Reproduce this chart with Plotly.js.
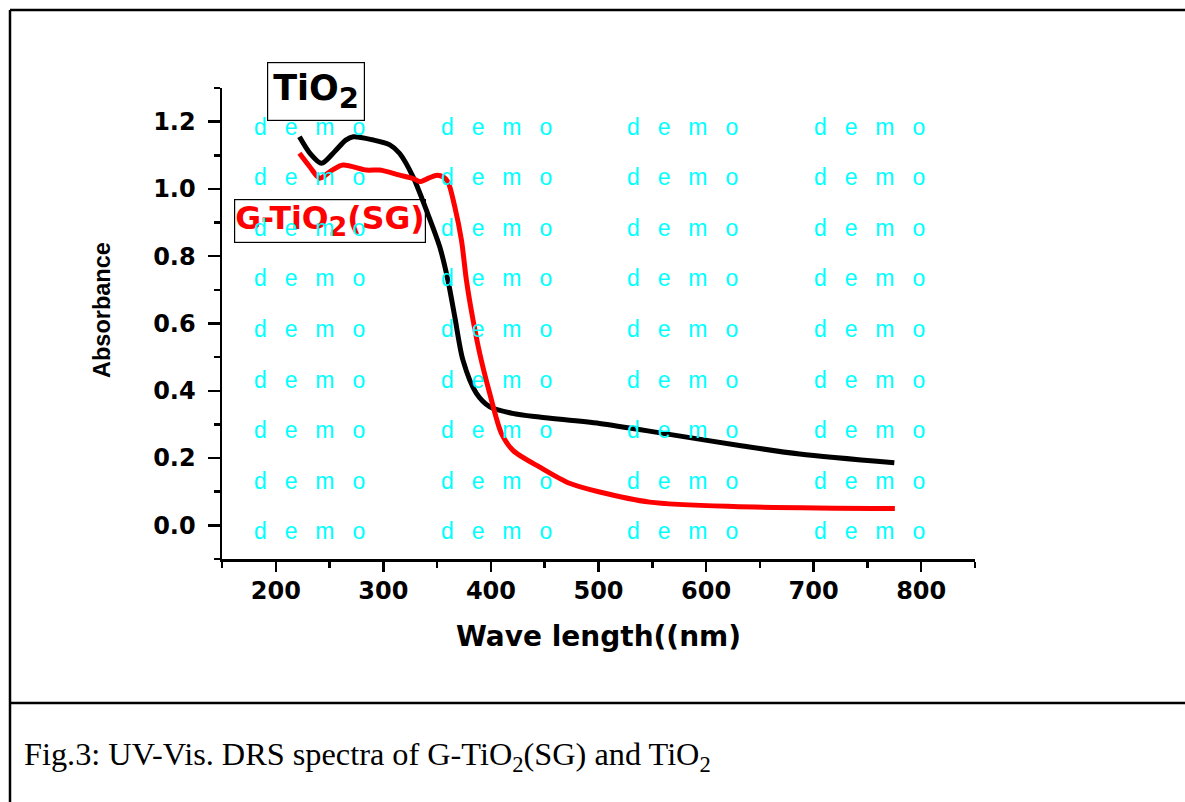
<!DOCTYPE html>
<html>
<head>
<meta charset="utf-8">
<script src="https://cdn.plot.ly/plotly-3.0.1.min.js"></script>
<style>html,body{margin:0;padding:0;background:#fff;}#chart{width:1185px;height:802px;}</style>
</head>
<body>
<div id="chart"></div>
<script>
// ---- data ----
const tio2Wavelength = [222, 232, 242.5, 255, 265, 272, 290, 306, 315, 327.6, 340, 352.4, 360, 366.4, 374, 386.5, 399, 420, 445, 501, 563, 634, 687, 775];
const tio2Absorbance = [1.155, 1.105, 1.076, 1.112, 1.145, 1.155, 1.146, 1.131, 1.106, 1.036, 0.937, 0.828, 0.729, 0.620, 0.491, 0.392, 0.352, 0.333, 0.322, 0.303, 0.272, 0.236, 0.212, 0.186];
const gTio2Wavelength = [222, 231.6, 240.9, 252, 262.4, 284.3, 296.7, 315.2, 327.6, 334, 342, 350, 356, 360.1, 366.4, 372.6, 377.2, 383.4, 389.6, 398.9, 409.8, 420.5, 445.4, 473, 501, 547.6, 625, 775.5];
const gTio2Absorbance = [1.106, 1.066, 1.032, 1.055, 1.071, 1.056, 1.056, 1.041, 1.031, 1.022, 1.032, 1.041, 1.035, 1.021, 0.947, 0.848, 0.729, 0.610, 0.511, 0.392, 0.273, 0.223, 0.173, 0.125, 0.099, 0.069, 0.056, 0.050];
const seriesNames = ['TiO<sub>2</sub>', 'G-TiO<sub>2</sub>(SG)'];
const xTitle = 'Wave length((nm)';
const yTitle = 'Absorbance';
const caption = 'Fig.3: UV-Vis. DRS spectra of G-TiO<sub>2</sub>(SG) and TiO<sub>2</sub>';
const gap = '\u2002\u00A0';
const watermark = ['d', 'e', 'm', 'o'].join(gap);

// ---- layout geometry ----
const W = 1185, H = 802;
const M = {l: 222, r: 210, t: 88, b: 243};
const PW = W - M.l - M.r, PH = H - M.t - M.b;
const px = x => (x - M.l) / PW;
const py = y => (H - M.b - y) / PH;

const traces = [
  {x: tio2Wavelength, y: tio2Absorbance, name: seriesNames[0], mode: 'lines',
   line: {color: '#000000', width: 5, shape: 'spline', smoothing: 0.8}},
  {x: gTio2Wavelength, y: gTio2Absorbance, name: seriesNames[1], mode: 'lines',
   line: {color: '#ff0000', width: 5, shape: 'spline', smoothing: 0.8}}
];

const tickFont = {family: 'DejaVu Sans', size: 24, color: '#000', weight: 'bold'};

const annotations = [];
annotations.push({xref: 'paper', yref: 'paper', x: px(316), y: py(91), xanchor: 'center', yanchor: 'middle',
  text: 'TiO<sub><span style="font-size:29px">2</span></sub>', showarrow: false,
  font: {family: 'DejaVu Sans', size: 35, color: '#000', weight: 'bold'},
  bordercolor: '#000', borderwidth: 1.2, borderpad: 5, bgcolor: 'rgba(255,255,255,0)'});
annotations.push({xref: 'paper', yref: 'paper', x: px(329.5), y: py(220.5), xanchor: 'center', yanchor: 'middle',
  text: 'G-TiO<sub><span style="font-size:27px">2</span></sub>(SG)', showarrow: false,
  font: {family: 'DejaVu Sans', size: 31.5, color: '#ff0000', weight: 'bold'},
  bordercolor: '#000', borderwidth: 1.2, borderpad: 0, bgcolor: 'rgba(255,255,255,0)'});

const wmCols = [255, 441.7, 628.3, 815];
for (let r = 0; r < 9; r++) {
  for (const c of wmCols) {
    annotations.push({xref: 'paper', yref: 'paper', x: px(c - 3), y: py(126.5 + 50.6 * r), xanchor: 'left', yanchor: 'middle',
      text: watermark, showarrow: false,
      font: {family: 'Liberation Sans', size: 23, color: 'rgb(0,255,255)'}});
  }
}
annotations.push({xref: 'paper', yref: 'paper', x: px(102), y: py(310), xanchor: 'center', yanchor: 'middle',
  text: yTitle, textangle: -90, showarrow: false,
  font: {family: 'Liberation Sans', size: 23.5, color: '#000', weight: 'bold'}});
annotations.push({xref: 'paper', yref: 'paper', x: px(22), y: py(756), xanchor: 'left', yanchor: 'middle',
  text: caption, showarrow: false, font: {family: 'Liberation Serif', size: 32.3, color: '#000'}});

const lineStyle = {type: 'line', xref: 'paper', yref: 'paper', line: {color: '#000', width: 2.5}};
const shapes = [
  Object.assign({}, lineStyle, {x0: px(10), x1: px(1185), y0: py(10), y1: py(10)}),
  Object.assign({}, lineStyle, {x0: px(10), x1: px(10), y0: py(10), y1: py(802)}),
  Object.assign({}, lineStyle, {x0: px(10), x1: px(1185), y0: py(703), y1: py(703)})
];

const layout = {
  width: W, height: H,
  margin: M,
  paper_bgcolor: '#fff', plot_bgcolor: '#fff',
  showlegend: false,
  xaxis: {
    range: [150, 850], tick0: 0, dtick: 100, tickmode: 'linear',
    showline: true, linecolor: '#000', linewidth: 2.5, mirror: false,
    ticks: 'outside', ticklen: 10, tickwidth: 2.5, tickcolor: '#000',
    minor: {tick0: 150, dtick: 50, ticks: 'outside', ticklen: 6, tickwidth: 2.5, tickcolor: '#000', showgrid: false},
    showgrid: false, zeroline: false, tickfont: tickFont, ticklabelstandoff: -1,
    title: {text: xTitle, font: {family: 'DejaVu Sans', size: 28, color: '#000', weight: 'bold'}, standoff: 22}
  },
  yaxis: {
    range: [-0.1, 1.3], tick0: 0, dtick: 0.2, tickmode: 'linear', tickformat: '.1f',
    showline: true, linecolor: '#000', linewidth: 2.5, mirror: false,
    ticks: 'outside', ticklen: 12, tickwidth: 2.5, tickcolor: '#000',
    minor: {tick0: -0.1, dtick: 0.1, ticks: 'outside', ticklen: 6, tickwidth: 2.5, tickcolor: '#000', showgrid: false},
    showgrid: false, zeroline: false, tickfont: tickFont, ticklabelstandoff: 7
  },
  annotations: annotations,
  shapes: shapes
};

Plotly.newPlot('chart', traces, layout, {displayModeBar: false, staticPlot: true});
</script>
</body>
</html>
